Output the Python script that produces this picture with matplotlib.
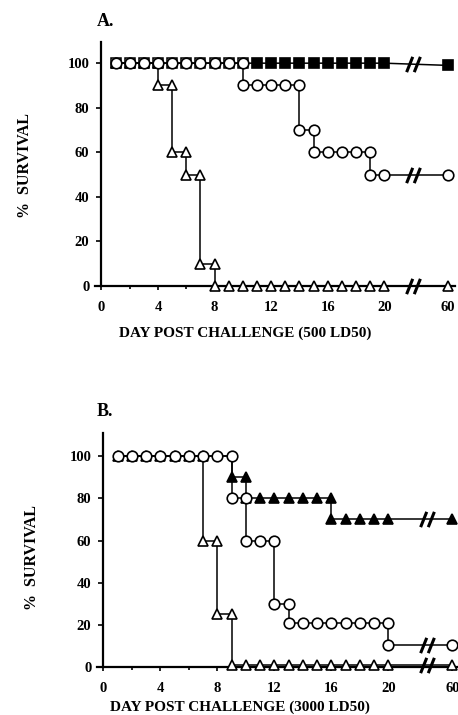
import matplotlib.pyplot as plt
import numpy as np
from matplotlib.path import Path

# ==============================
# Datos
# ==============================
# Panel A (500 LD50)
sq_a_days = list(range(1, 21)) + [60]
sq_a_vals = [100] * 20 + [99]
sq_a_filled_from = 11

circ_a_days = list(range(1, 11)) + [10, 11, 12, 13, 14] + [14, 15] + [15, 16, 17, 18, 19] + [19, 20, 60]
circ_a_vals = [100] * 10 + [90] * 5 + [70] * 2 + [60] * 5 + [50] * 3

tri_a_days = [1, 2, 3, 4, 4, 5, 5, 6, 6, 7, 7, 8] + list(range(8, 21)) + [60]
tri_a_vals = [100, 100, 100, 100, 90, 90, 60, 60, 50, 50, 10, 10] + [0] * 13 + [0]

# Panel B (3000 LD50)
ftri_b_days = list(range(1, 10)) + [9, 10] + list(range(10, 17)) + list(range(16, 21)) + [60]
ftri_b_vals = [100] * 9 + [90] * 2 + [80] * 7 + [70] * 5 + [70]
ftri_b_marks_from = 9

circ_b_days = list(range(1, 10)) + [9, 10] + [10, 11, 12] + [12, 13] + list(range(13, 21)) + [20, 60]
circ_b_vals = [100] * 9 + [80] * 2 + [60] * 3 + [30] * 2 + [21] * 8 + [10.5] * 2

tri_b_days = list(range(1, 8)) + [7, 8] + [8, 9] + list(range(9, 21)) + [60]
tri_b_vals = [100] * 7 + [60] * 2 + [25] * 2 + [0.8] * 12 + [0.8]

x_ticks = [0, 4, 8, 12, 16, 20, 60]
y_ticks = [0, 20, 40, 60, 80, 100]

# ==============================
# Escala del eje x (dia 60 despues del corte)
# ==============================
POS_60 = 24.5


def xpos(days):
    d = np.asarray(days, dtype=float)
    return np.where(d >= 60, POS_60, d)


# marcador del corte "//"
brk_path = Path([(-0.9, -1), (-0.1, 1), (0.1, -1), (0.9, 1)],
                [Path.MOVETO, Path.LINETO, Path.MOVETO, Path.LINETO])

plt.rcParams['font.family'] = ['Liberation Serif', 'DejaVu Serif']
plt.rcParams['font.weight'] = 'bold'

fig = plt.figure(figsize=(4.58, 7.15), dpi=100)
W, H = 458, 715

ax_a = fig.add_axes([95 / W, 1 - 286 / H, 360 / W, 244 / H])
ax_b = fig.add_axes([97 / W, 1 - 667 / H, 362.5 / W, 234 / H])

MS = 7.6
mk = dict(markersize=MS, markeredgewidth=1.2, color="black", linewidth=1.1, clip_on=False)


def style_axes(ax, ytop):
    ax.set_xlim(-0.45, 25)
    ax.set_ylim(0, ytop)
    ax.spines['left'].set_position(('data', 0))
    ax.spines['top'].set_visible(False)
    ax.spines['right'].set_visible(False)
    ax.spines['left'].set_linewidth(1.6)
    ax.spines['bottom'].set_linewidth(1.6)
    ax.set_xticks(xpos(x_ticks))
    ax.set_xticklabels([str(t) for t in x_ticks])
    ax.set_xticks([2, 6, 10, 14, 18], minor=True)
    ax.set_yticks(y_ticks)
    ax.tick_params(axis='x', which='major', direction='out', length=3, width=1.2,
                   pad=8, labelsize=10.5)
    ax.tick_params(axis='x', which='minor', direction='out', length=2.5, width=1.2)
    ax.tick_params(axis='y', direction='out', length=3.6, width=1.2, pad=5, labelsize=10.5)
    for lab in ax.get_xticklabels() + ax.get_yticklabels():
        lab.set_fontweight('bold')


def draw_break(ax, days, vals, xb):
    x = xpos(days)
    y_b = np.interp(xb, x[-2:], np.asarray(vals[-2:], dtype=float))
    ax.plot([xb], [y_b], marker=brk_path, markersize=11, markeredgewidth=2.2,
            color="black", linestyle="none", clip_on=False, zorder=6)


# ==============================
# Panel A
# ==============================
style_axes(ax_a, 109.5)
n_open = sum(1 for d in sq_a_days if d < sq_a_filled_from)
ax_a.plot(xpos(sq_a_days), sq_a_vals, marker="s", markerfacecolor="black",
          markevery=slice(n_open, None), zorder=3, **mk)
ax_a.plot(xpos(sq_a_days[:n_open]), sq_a_vals[:n_open], marker="s",
          markerfacecolor="white", linestyle="none", zorder=3,
          markersize=MS - 0.6, markeredgewidth=1.1, color="black", clip_on=False)
ax_a.plot(xpos(tri_a_days), tri_a_vals, marker="^", markerfacecolor="white", zorder=4, **mk)
ax_a.plot(xpos(circ_a_days), circ_a_vals, marker="o", markerfacecolor="white", zorder=5, **mk)
for d, v in [(sq_a_days, sq_a_vals), (circ_a_days, circ_a_vals), (tri_a_days, tri_a_vals)]:
    draw_break(ax_a, d, v, 22.0)

# ==============================
# Panel B
# ==============================
style_axes(ax_b, 111)
ax_b.plot(xpos(ftri_b_days), ftri_b_vals, marker="^", markerfacecolor="black",
          markevery=slice(ftri_b_marks_from, None), zorder=3, **mk)
ax_b.plot(xpos(tri_b_days), tri_b_vals, marker="^", markerfacecolor="white", zorder=4, **mk)
ax_b.plot(xpos(circ_b_days), circ_b_vals, marker="o", markerfacecolor="white", zorder=5, **mk)
for d, v in [(ftri_b_days, ftri_b_vals), (circ_b_days, circ_b_vals), (tri_b_days, tri_b_vals)]:
    draw_break(ax_b, d, v, 22.7)

# ==============================
# Textos
# ==============================
fig.text(97 / W, 1 - 21 / H, "A.", fontsize=13, fontweight="bold", va="center", ha="left")
fig.text(97 / W, 1 - 412 / H, "B.", fontsize=13, fontweight="bold", va="center", ha="left")
fig.text(245 / W, 1 - 333 / H, "DAY POST CHALLENGE (500 LD50)", fontsize=11,
         fontweight="bold", ha="center", va="center")
fig.text(240 / W, 1 - 707 / H, "DAY POST CHALLENGE (3000 LD50)", fontsize=11,
         fontweight="bold", ha="center", va="center")
fig.text(25 / W, 1 - 166 / H, "%  SURVIVAL", fontsize=11.5, fontweight="bold",
         rotation=90, ha="center", va="center")
fig.text(32 / W, 1 - 557 / H, "%  SURVIVAL", fontsize=11.5, fontweight="bold",
         rotation=90, ha="center", va="center")

fig.savefig("out.png", dpi=100)
